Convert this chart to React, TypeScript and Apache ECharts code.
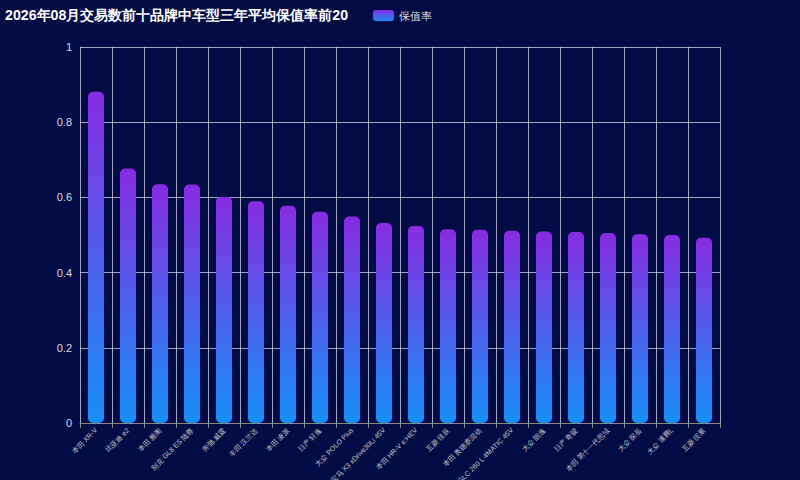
import React, { useEffect, useRef } from 'react'
import * as echarts from 'echarts'

const titleText = '2026年08月交易数前十品牌中车型三年平均保值率前20'
const seriesName = '保值率'

const models = [
  '本田 XR-V',
  '比亚迪 e2',
  '本田 雅阁',
  '别克 GL8 ES 陆尊',
  '奔驰 威霆',
  '丰田 汉兰达',
  '本田 凌派',
  '日产 轩逸',
  '大众 POLO Plus',
  '宝马 X3 xDrive30Li 45V',
  '本田 HR-V e:HEV',
  '五菱 佳辰',
  '本田 奥德赛混动',
  '奔驰 GLC 260 L 4MATIC 45V',
  '大众 朗逸',
  '日产 奇骏',
  '本田 第十一代思域',
  '大众 探岳',
  '大众 速腾L',
  '五菱 缤果',
]

const retention = [
  0.881, 0.677, 0.635, 0.634, 0.602, 0.59, 0.578, 0.562, 0.549, 0.532,
  0.524, 0.515, 0.514, 0.511, 0.509, 0.508, 0.505, 0.502, 0.5, 0.493,
]

const App = () => {
  const chartRef = useRef<HTMLDivElement>(null)

  useEffect(() => {
    if (!chartRef.current) return
    const chart = echarts.init(chartRef.current, undefined, { renderer: 'svg' })

    const barColor = new echarts.graphic.LinearGradient(0, 0, 0, 1, [
      { offset: 0, color: '#8a2be6' },
      { offset: 1, color: '#138ff5' },
    ])

    chart.setOption({
      animation: false,
      backgroundColor: '#030b45',
      title: {
        text: titleText,
        left: 0,
        top: 3,
        textStyle: { color: '#fff', fontSize: 14.2, fontWeight: 'bold' },
      },
      legend: {
        left: 368,
        top: 5,
        itemWidth: 21,
        itemHeight: 11,
        itemGap: 6,
        icon: 'roundRect',
        textStyle: { color: '#ddd', fontSize: 11 },
        data: [seriesName],
      },
      grid: { left: 80, right: 80, top: 47, bottom: 57, outerBoundsMode: 'none' },
      xAxis: {
        type: 'category',
        data: models,
        axisLine: { lineStyle: { color: '#888' } },
        axisTick: { show: true, lineStyle: { color: '#888' } },
        axisLabel: { color: '#ccc', fontSize: 7, rotate: 45, interval: 0, margin: 6 },
        splitLine: { show: true, lineStyle: { color: 'rgba(220,220,235,0.75)' } },
      },
      yAxis: {
        type: 'value',
        min: 0,
        max: 1,
        interval: 0.2,
        axisLine: { show: false },
        axisLabel: { color: '#ddd', fontSize: 11 },
        splitLine: { lineStyle: { color: 'rgba(220,220,235,0.75)' } },
      },
      series: [
        {
          name: seriesName,
          type: 'bar',
          data: retention,
          barWidth: '50%',
          itemStyle: { color: barColor, borderRadius: 5 },
        },
      ],
    })

    return () => {
      chart.dispose()
    }
  }, [])

  return (
    <div
      ref={chartRef}
      style={{ position: 'fixed', left: 0, top: 0, width: 800, height: 480 }}
    />
  )
}

export default App
